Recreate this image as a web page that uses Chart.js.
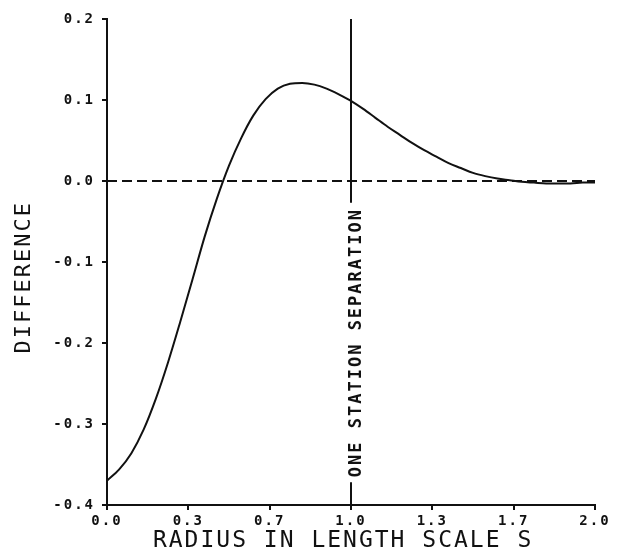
<!DOCTYPE html>
<html>
<head>
<meta charset="utf-8">
<script src="https://cdn.jsdelivr.net/npm/chart.js@4.4.1/dist/chart.umd.min.js"></script>
<style>
html, body { margin: 0; padding: 0; background: #fff; }
#wrap { width: 625px; height: 553px; }
</style>
</head>
<body>
<div id="wrap"><canvas id="chart"></canvas></div>
<script>
// curve
const radius = [0.00, 0.05, 0.10, 0.15, 0.20, 0.25, 0.30, 0.35, 0.40, 0.45,
                0.50, 0.55, 0.60, 0.65, 0.70, 0.75, 0.80, 0.85, 0.90, 0.95,
                1.00, 1.05, 1.10, 1.15, 1.20, 1.25, 1.30, 1.35, 1.40, 1.45,
                1.50, 1.55, 1.60, 1.65, 1.70, 1.75, 1.80, 1.85, 1.90, 1.95, 2.00];
const difference = [-0.370, -0.356, -0.336, -0.307, -0.269, -0.224, -0.174, -0.122, -0.069, -0.022,
                    0.019, 0.053, 0.081, 0.101, 0.114, 0.120, 0.121, 0.119, 0.114, 0.107,
                    0.099, 0.089, 0.078, 0.067, 0.057, 0.047, 0.038, 0.030, 0.022, 0.016,
                    0.010, 0.006, 0.003, 0.001, -0.001, -0.002, -0.003, -0.003, -0.003, -0.002, -0.002];

// zero reference line
const zeroX = [0, 2];
const zeroY = [0, 0];

// station separation marker
const markerX = 1.0;
const markerUpper = [0.2, -0.027];
const markerLower = [-0.372, -0.4];
const markerText = 'ONE STATION SEPARATION';

const xTickValues = [0, 0.3333, 0.6667, 1, 1.3333, 1.6667, 2];
const xTickLabels = ['0.0', '0.3', '0.7', '1.0', '1.3', '1.7', '2.0'];
const yTickValues = [-0.4, -0.3, -0.2, -0.1, 0, 0.1, 0.2];
const yTickLabels = ['-0.4', '-0.3', '-0.2', '-0.1', '0.0', '0.1', '0.2'];

const ink = '#111';
const mono = "'DejaVu Sans Mono', monospace";

const spacingPlugin = {
    id: 'spacing',
    beforeDraw(chart) {
        chart.ctx.letterSpacing = '2px';
    }
};

// texto vertical entre los dos tramos de la línea
const markerLabel = {
    id: 'markerLabel',
    afterDatasetsDraw(chart) {
        const { ctx, scales } = chart;
        const px = scales.x.getPixelForValue(markerX) + 6;
        const y1 = scales.y.getPixelForValue(markerUpper[1]);
        const y2 = scales.y.getPixelForValue(markerLower[0]);
        ctx.save();
        ctx.letterSpacing = '2px';
        ctx.translate(px, (y1 + y2) / 2);
        ctx.rotate(-Math.PI / 2);
        ctx.fillStyle = ink;
        ctx.font = 'bold 17px ' + mono;
        ctx.textAlign = 'center';
        ctx.textBaseline = 'middle';
        ctx.fillText(markerText, 0, 0);
        ctx.restore();
    }
};

const ctx = document.getElementById('chart').getContext('2d');

new Chart(ctx, {
    type: 'line',
    data: {
        datasets: [
            {
                data: radius.map((r, i) => ({ x: r, y: difference[i] })),
                borderColor: ink,
                borderWidth: 2,
                cubicInterpolationMode: 'monotone',
                pointRadius: 0,
            },
            {
                data: zeroX.map((r, i) => ({ x: r, y: zeroY[i] })),
                borderColor: ink,
                borderWidth: 2,
                borderDash: [10, 5],
                pointRadius: 0,
            },
            {
                data: [
                    { x: markerX, y: markerUpper[0] },
                    { x: markerX, y: markerUpper[1] },
                    { x: markerX, y: null },
                    { x: markerX, y: markerLower[0] },
                    { x: markerX, y: markerLower[1] },
                ],
                borderColor: ink,
                borderWidth: 2,
                pointRadius: 0,
                spanGaps: false,
            },
        ],
    },
    options: {
        responsive: true,
        maintainAspectRatio: false,
        animation: false,
        layout: { padding: { top: 19, right: 30, left: 0, bottom: 0 } },
        scales: {
            x: {
                type: 'linear',
                min: 0,
                max: 2,
                afterFit(scale) { scale.height = 48; },
                afterBuildTicks(scale) { scale.ticks = xTickValues.map(v => ({ value: v })); },
                ticks: {
                    color: ink,
                    font: { family: mono, size: 14, weight: 'bold' },
                    padding: 3,
                    maxRotation: 0,
                    autoSkip: false,
                    callback: (v, i) => xTickLabels[i],
                },
                grid: { drawOnChartArea: false, drawTicks: true, tickLength: 5, color: ink, lineWidth: 2 },
                border: { display: true, color: ink, width: 2 },
                title: {
                    display: true,
                    text: 'RADIUS IN LENGTH SCALE S ',
                    color: ink,
                    font: { family: mono, size: 23, lineHeight: 1 },
                    padding: { top: 0, bottom: 0 },
                },
            },
            y: {
                min: -0.4,
                max: 0.2,
                afterFit(scale) { scale.width = 107; },
                afterBuildTicks(scale) { scale.ticks = yTickValues.map(v => ({ value: v })); },
                ticks: {
                    color: ink,
                    font: { family: mono, size: 14, weight: 'bold' },
                    padding: 7,
                    autoSkip: false,
                    callback: (v, i) => yTickLabels[i],
                },
                grid: { drawOnChartArea: false, drawTicks: true, tickLength: 5, color: ink, lineWidth: 2 },
                border: { display: true, color: ink, width: 2 },
                title: {
                    display: true,
                    text: 'DIFFERENCE  ',
                    color: ink,
                    font: { family: mono, size: 22, lineHeight: 1 },
                    padding: { top: 13, bottom: 0 },
                },
            },
        },
        plugins: {
            legend: { display: false },
            tooltip: { enabled: false },
        },
    },
    plugins: [spacingPlugin, markerLabel],
});
</script>
</body>
</html>
